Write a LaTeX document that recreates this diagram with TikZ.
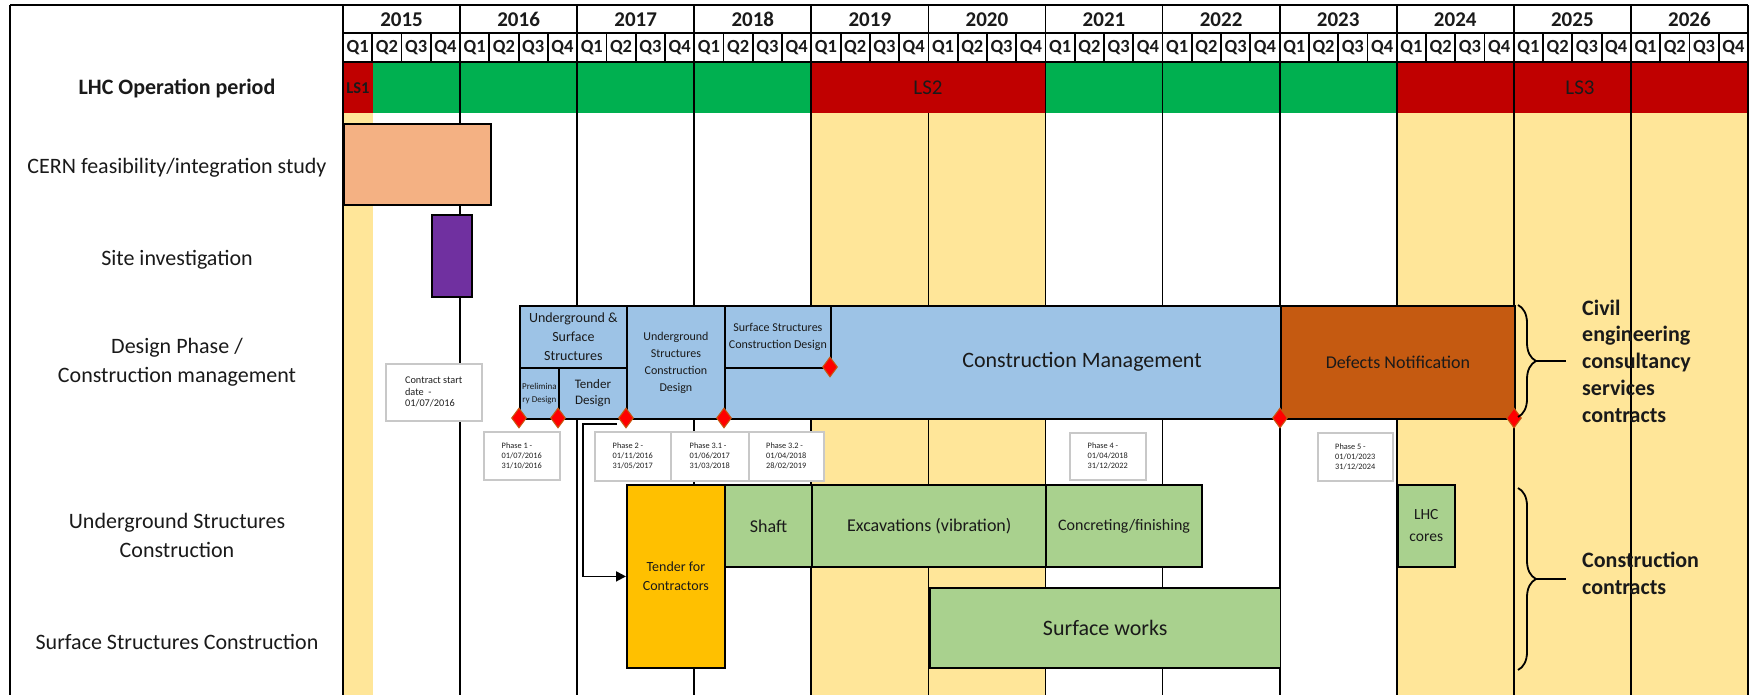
\documentclass[tikz,border=0pt]{standalone}
\usepackage{fontspec}
\setmainfont{Carlito}
\usetikzlibrary{shapes.geometric,arrows.meta,decorations.pathreplacing}
\definecolor{cyel}{HTML}{FFE699}
\definecolor{cgrn}{HTML}{00B050}
\definecolor{cred}{HTML}{C00000}
\definecolor{cblue}{HTML}{9DC3E6}
\definecolor{corg}{HTML}{F4B183}
\definecolor{cpur}{HTML}{7030A0}
\definecolor{cdef}{HTML}{C55A11}
\definecolor{cten}{HTML}{FFC000}
\definecolor{clg}{HTML}{A9D18E}
\definecolor{cgray}{HTML}{C8C8C8}
\definecolor{ctxt}{HTML}{1A1A1A}
\definecolor{cptxt}{HTML}{202020}
\newcommand\fs[2]{\fontsize{#1}{#2}\selectfont}
\newcommand\gbox[7]{\node[#1, anchor=north west, minimum width={(#5)-(#3)}, minimum height={(#6)-(#4)}] (#2) at (#3,#4) {#7};}
\begin{document}
\begin{tikzpicture}[x=1pt,y=-1pt,
  box/.style={draw=black, line width=1.8pt, inner sep=0pt, align=center, text=ctxt},
  pbox/.style={draw=cgray, fill=white, line width=1.5pt, inner sep=0pt, align=left, text=cptxt, font=\fs{8.3}{10}},
  dmd/.style={diamond, draw=cdef, fill=red, line width=1pt, minimum width=15pt, minimum height=20pt, inner sep=0pt},
  gridline/.style={black, line width=1.8pt},
  lbl/.style={inner sep=0pt, align=center, text=ctxt, font=\fs{22}{29}},
  ylbl/.style={inner sep=0pt, text=ctxt, font=\bfseries\fs{21}{25}},
  qlbl/.style={inner sep=0pt, text=ctxt, font=\bfseries\fs{18.5}{22}},
  conn/.style={black, line width=1.8pt},
  brc/.style={decorate, decoration={brace, amplitude=18pt}, black, line width=1.8pt},
  side/.style={inner sep=0pt, align=left, anchor=west, text=ctxt, font=\bfseries\fs{22}{26.8}}
]
\useasboundingbox (0,0) rectangle (1750,695);
\fill[white] (0,0) rectangle (1750,695);
% yellow shutdown columns
\fill[cyel] (343,113) rectangle (373,695);
\fill[cyel] (811.3,113) rectangle (1045.4,695);
\fill[cyel] (1396.7,113) rectangle (1748,695);
% LHC operation row
\fill[cred] (343,62) rectangle (373,113);
\fill[cgrn] (373,62) rectangle (811.3,113);
\fill[cred] (811.3,62) rectangle (1045.4,113);
\fill[cgrn] (1045.4,62) rectangle (1396.7,113);
\fill[cred] (1396.7,62) rectangle (1748,113);
% grid
\draw[gridline, line width=2.4pt] (10,5) -- (1748,5);
\draw[gridline] (10,5) -- (10,695);
\draw[gridline] (343,33) -- (1748,33);
\draw[gridline] (343,62) -- (1748,62);
\foreach \k in {0,1,2,3,4,6,7,8,9,10,11,12} {
  \draw[gridline] ({343+117.08*\k},5) -- ({343+117.08*\k},695);
}
\draw[gridline] ({343+117.08*5},5) -- ({343+117.08*5},62);
\draw[gridline] ({343+117.08*5},113) -- ({343+117.08*5},695);
\foreach \k in {0,...,11} {
  \foreach \q in {1,2,3} {
    \draw[gridline] ({343+117.08*\k+29.27*\q},33) -- ({343+117.08*\k+29.27*\q},63);
  }
}
% header labels
\foreach \yr [count=\k from 0] in {2015,2016,2017,2018,2019,2020,2021,2022,2023,2024,2025,2026} {
  \node[ylbl] (y\yr) at ({343+117.08*\k+58.54},19.5) {\yr};
}
\foreach \k in {0,...,11} {
  \foreach \q in {1,2,3,4} {
    \node[qlbl] (q\k-\q) at ({343+117.08*\k+29.27*(\q-0.5)},48) {Q\q};
  }
}
\node[inner sep=0pt, text=ctxt, font=\bfseries\fs{16.5}{20}] (ls1) at (358,88) {LS1};
\node[inner sep=0pt, text=ctxt, font=\fs{21}{25}] (ls2) at (928,88) {LS2};
\node[inner sep=0pt, text=ctxt, font=\fs{21}{25}] (ls3) at (1580,88) {LS3};
% row labels
\node[lbl, font=\bfseries\fs{22}{29}] (r1) at (177,88) {LHC Operation period};
\node[lbl] (r2) at (177,168) {CERN feasibility/integration study};
\node[lbl] (r3) at (177,260) {Site investigation};
\node[lbl] (r4) at (177,362) {Design Phase /\\Construction management};
\node[lbl] (r5) at (177,535) {Underground Structures\\Construction};
\node[lbl] (r6) at (177,642) {Surface Structures Construction};
% early boxes
\gbox{box,fill=corg}{cern}{343}{123}{490}{204}{}
\gbox{box,fill=cpur}{site}{431}{214}{471}{296}{}
% design phase
\gbox{box,fill=cblue}{cm}{519}{305}{1280}{418}{}
\node[inner sep=0pt, text=ctxt, font=\fs{22}{26}] (cmt) at (1082,362) {Construction Management};
\gbox{box,fill=cblue,font=\fs{14}{19}}{usb}{519}{305}{626}{367}{Underground \&\\Surface\\Structures}
\gbox{box,fill=cblue,font=\fs{9}{13}}{prel}{519}{367}{558}{418}{Prelimina\\ry Design}
\gbox{box,fill=cblue,font=\fs{13}{16}}{tend}{558}{367}{626}{418}{Tender\\Design}
\gbox{box,fill=cblue,font=\fs{12}{17}}{ucd}{626}{305}{724}{418}{Underground\\Structures\\Construction\\Design}
\gbox{box,fill=cblue,font=\fs{12}{17}}{scd}{724}{305}{830}{367}{Surface Structures\\Construction Design}
\gbox{box,fill=cdef,font=\fs{18}{22}}{defn}{1280}{305}{1514}{418}{Defects Notification}
% milestones
\node[dmd] (d1) at (519,418) {};
\node[dmd] (d2) at (558,418) {};
\node[dmd] (d3) at (626,418) {};
\node[dmd] (d4) at (724,418) {};
\node[dmd] (d5) at (830,367) {};
\node[dmd] (d6) at (1280,418) {};
\node[dmd] (d7) at (1514,418) {};
% phase boxes
\gbox{pbox,font=\fs{10.3}{11.5}}{cst}{385}{363}{481}{420}{Contract start\\date \ -\\01/07/2016}
\gbox{pbox}{ph1}{483}{431}{559}{479}{Phase 1 -\\01/07/2016\\31/10/2016}
\gbox{pbox}{ph2}{594}{431}{670}{480}{Phase 2 -\\01/11/2016\\31/05/2017}
\gbox{pbox}{ph31}{670}{431}{748}{480}{Phase 3.1 -\\01/06/2017\\31/03/2018}
\gbox{pbox}{ph32}{748}{431}{823}{480}{Phase 3.2 -\\01/04/2018\\28/02/2019}
\gbox{pbox}{ph4}{1069}{432}{1145}{479}{Phase 4 -\\01/04/2018\\31/12/2022}
\gbox{pbox}{ph5}{1317}{432}{1392}{480}{Phase 5 -\\01/01/2023\\31/12/2024}
% construction
\gbox{box,fill=cten,font=\fs{14}{19}}{tender}{626}{484}{724}{667}{Tender for\\Contractors}
\gbox{box,fill=clg,font=\fs{18}{22}}{shaft}{724}{484}{811.3}{566}{Shaft}
\gbox{box,fill=clg,font=\fs{18}{22}}{exc}{811.3}{484}{1045.4}{566}{Excavations (vibration)}
\gbox{box,fill=clg,font=\fs{16}{20}}{conc}{1045.4}{484}{1201}{566}{Concreting/finishing}
\gbox{box,fill=clg,font=\fs{15.5}{22}}{cores}{1396.7}{484}{1454}{566}{LHC\\cores}
\gbox{box,fill=clg,font=\fs{22}{26}}{surf}{929}{587}{1279.6}{667}{Surface works}
% connector
\coordinate (a0) at (617,424);
\draw[conn, -{Triangle[length=10pt,width=10pt]}] (a0) -- (583,424) |- (tender.west);
% braces
\coordinate (b1t) at (1518,305);
\coordinate (b1b) at (1518,417);
\coordinate (b1m) at (1536,361);
\coordinate (b1e) at (1566,361);
\draw[brc] (b1t) -- (b1b);
\draw[conn] (b1m) -- (b1e);
\coordinate (b2t) at (1518,488);
\coordinate (b2b) at (1518,670);
\coordinate (b2m) at (1536,579);
\coordinate (b2e) at (1566,579);
\draw[brc] (b2t) -- (b2b);
\draw[conn] (b2m) -- (b2e);
\node[side] (civ) at (1582,361) {Civil\\engineering\\consultancy\\services\\contracts};
\node[side] (cons) at (1582,573) {Construction\\contracts};
\end{tikzpicture}
\end{document}
